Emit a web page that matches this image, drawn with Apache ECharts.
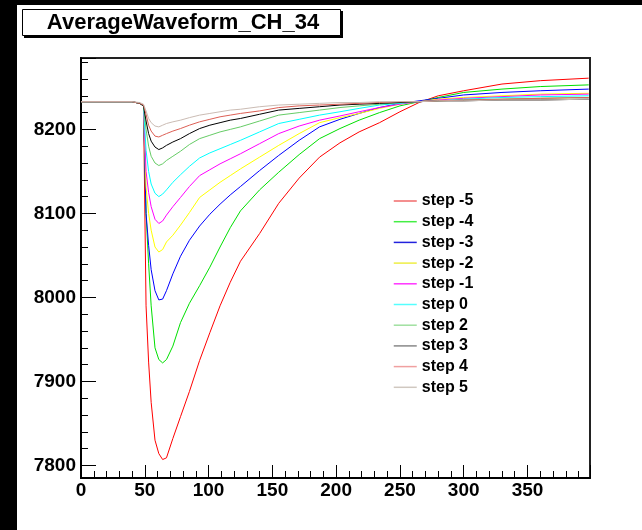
<!DOCTYPE html>
<html>
<head>
<meta charset="utf-8">
<script src="https://cdn.jsdelivr.net/npm/echarts@6/dist/echarts.min.js"></script>
<style>
html,body{margin:0;padding:0;background:#fff;}
#chart{width:642px;height:530px;}
</style>
</head>
<body>
<div id="chart"></div>
<script>
// ---- data ----
const chartTitle = 'AverageWaveform_CH_34';
const stepNames = ['step -5','step -4','step -3','step -2','step -1','step 0','step 2','step 3','step 4','step 5'];
const xPositions = [0, 40, 46, 49, 51, 53, 55, 58, 61, 64, 67, 72, 78, 85, 93, 101, 109, 117, 125, 140, 155, 171, 187, 203, 218, 234, 250, 265, 280, 300, 330, 360, 398];
const stepM5 = [8233, 8233, 8231, 8228, 7990, 7923, 7875, 7830, 7814, 7807, 7809, 7832, 7858, 7888, 7925, 7958, 7990, 8018, 8043, 8076, 8112, 8142, 8167, 8184, 8197, 8208, 8221, 8232, 8240, 8246, 8254, 8258, 8261];
const stepM4 = [8233, 8233, 8231, 8228, 8100, 8040, 7990, 7940, 7926, 7922, 7926, 7942, 7970, 7993, 8014, 8036, 8060, 8083, 8103, 8128, 8149, 8170, 8189, 8201, 8211, 8220, 8228, 8233, 8238, 8244, 8248, 8251, 8253];
const stepM3 = [8233, 8233, 8231, 8228, 8100, 8062, 8033, 8008, 7997, 7998, 8008, 8028, 8049, 8068, 8085, 8099, 8111, 8122, 8132, 8151, 8169, 8187, 8203, 8212, 8219, 8226, 8231, 8234, 8237, 8241, 8244, 8246, 8248];
const stepM2 = [8233, 8233, 8231, 8228, 8131, 8100, 8080, 8060, 8054, 8057, 8066, 8074, 8086, 8101, 8119, 8128, 8137, 8145, 8153, 8167, 8181, 8195, 8208, 8214, 8219, 8225, 8230, 8233, 8236, 8238, 8240, 8242, 8243];
const stepM1 = [8233, 8233, 8231, 8228, 8150, 8125, 8108, 8093, 8088, 8091, 8098, 8108, 8119, 8132, 8145, 8152, 8159, 8165, 8171, 8183, 8195, 8204, 8211, 8216, 8221, 8226, 8230, 8233, 8235, 8237, 8239, 8241, 8242];
const step0  = [8233, 8233, 8231, 8228, 8175, 8150, 8135, 8124, 8120, 8123, 8128, 8137, 8146, 8156, 8166, 8172, 8177, 8182, 8187, 8197, 8207, 8212, 8217, 8221, 8225, 8229, 8231, 8233, 8234, 8236, 8238, 8239, 8240];
const step2  = [8233, 8233, 8231, 8228, 8200, 8180, 8168, 8160, 8157, 8159, 8163, 8168, 8174, 8182, 8189, 8193, 8197, 8200, 8203, 8210, 8217, 8220, 8223, 8226, 8228, 8230, 8232, 8233, 8234, 8235, 8236, 8237, 8238];
const step3  = [8233, 8233, 8231, 8228, 8210, 8195, 8186, 8179, 8176, 8178, 8181, 8185, 8189, 8195, 8201, 8205, 8208, 8211, 8213, 8218, 8223, 8225, 8227, 8229, 8230, 8231, 8232, 8233, 8234, 8234, 8235, 8235, 8236];
const step4  = [8233, 8233, 8231, 8229, 8218, 8205, 8198, 8192, 8191, 8193, 8195, 8198, 8201, 8205, 8209, 8212, 8215, 8217, 8219, 8222, 8226, 8228, 8229, 8230, 8231, 8232, 8233, 8233, 8234, 8235, 8236, 8237, 8238];
const step5  = [8233, 8233, 8232, 8230, 8222, 8213, 8208, 8204, 8203, 8205, 8207, 8209, 8211, 8214, 8217, 8219, 8221, 8223, 8224, 8227, 8229, 8230, 8231, 8232, 8232, 8233, 8233, 8233, 8234, 8234, 8235, 8235, 8236];
const stepValues = [stepM5, stepM4, stepM3, stepM2, stepM1, step0, step2, step3, step4, step5];

// ---- styles ----
const lineColors   = ['#ff0000','#00e000','#0000ff','#ffff00','#ff00ff','#00ffff','#66cc66','#000000','#dd5f55','#cbbcb4'];
const legendColors = ['#f06a6a','#44ee44','#2222dd','#eeee44','#ff33ff','#55ffff','#a0e0a0','#888888','#f0a0a0','#d0c8c0'];

const series = stepNames.map((name, i) => ({
  name: name,
  type: 'line',
  symbol: 'none',
  animation: false,
  lineStyle: { color: lineColors[i], width: 1 },
  itemStyle: { color: lineColors[i] },
  data: xPositions.map((x, k) => [x, stepValues[i][k]])
}));

const FONT = '"Liberation Sans", Arial, Helvetica, sans-serif';

const chart = echarts.init(document.getElementById('chart'), null, { renderer: 'canvas', width: 642, height: 530 });
chart.setOption({
  animation: false,
  backgroundColor: '#ffffff',
  grid: { left: 81, right: 52, top: 58, bottom: 52, show: true, borderColor: '#222', borderWidth: 2, backgroundColor: 'transparent' },
  xAxis: {
    type: 'value', min: 0, max: 399, interval: 50,
    axisLine: { show: true, onZero: false, lineStyle: { color: '#000', width: 2 } },
    axisTick: { show: true, inside: true, length: 13, lineStyle: { color: '#000', width: 1 } },
    minorTick: { show: true, splitNumber: 5, length: 7, lineStyle: { color: '#000', width: 1 } },
    axisLabel: { show: true, showMaxLabel: false, margin: 3, color: '#000', fontFamily: FONT, fontWeight: 'bold', fontSize: 19,
                 formatter: v => String(v) },
    splitLine: { show: false }, minorSplitLine: { show: false }
  },
  yAxis: {
    type: 'value', min: 7785, max: 8285, splitNumber: 5,
    axisLine: { show: true, onZero: false, lineStyle: { color: '#000', width: 2 } },
    axisTick: { show: true, inside: true, length: 15, lineStyle: { color: '#000', width: 1 } },
    minorTick: { show: true, splitNumber: 5, length: 7, lineStyle: { color: '#000', width: 1 } },
    axisLabel: { show: true, showMinLabel: false, showMaxLabel: false, margin: 5, color: '#000', fontFamily: FONT, fontWeight: 'bold', fontSize: 19,
                 formatter: v => String(v) },
    splitLine: { show: false }, minorSplitLine: { show: false }
  },
  legend: {
    orient: 'vertical', left: 393, top: 193, padding: 0,
    itemWidth: 23, itemHeight: 14, itemGap: 4.7,
    textStyle: { fontFamily: FONT, fontWeight: 'bold', fontSize: 16, color: '#000', lineHeight: 15 },
    data: stepNames.map((n, i) => ({ name: n, lineStyle: { color: legendColors[i], width: 1.5 },
                                     itemStyle: { color: 'transparent', borderWidth: 0, opacity: 0 } }))
  },
  graphic: [
    { type: 'rect', left: 0, top: 0, shape: { width: 17, height: 530 }, style: { fill: '#000' }, silent: true },
    { type: 'rect', left: 0, top: 0, shape: { width: 642, height: 5 }, style: { fill: '#000' }, silent: true },
    { type: 'rect', shape: { x: 24, y: 11, width: 319, height: 27 }, style: { fill: '#000' }, silent: true },
    { type: 'rect', shape: { x: 22.5, y: 9.5, width: 318, height: 26 }, style: { fill: '#fff', stroke: '#000', lineWidth: 1 }, silent: true },
    { type: 'text', x: 183, y: 23, style: { text: chartTitle, fill: '#000', font: 'bold 22px ' + FONT, textAlign: 'center', textVerticalAlign: 'middle' }, silent: true }
  ],
  series: series
});
</script>
</body>
</html>
